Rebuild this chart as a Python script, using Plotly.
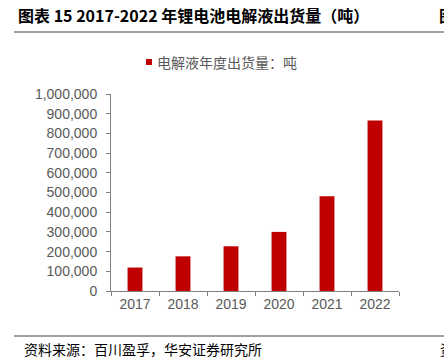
import plotly.graph_objects as go

years = ["2017", "2018", "2019", "2020", "2021", "2022"]
shipments = [119000, 176000, 227000, 300000, 481000, 866000]
series_name = "电解液年度出货量：吨"
title_text = "图表 15 2017-2022 年锂电池电解液出货量（吨）"
source_text = "资料来源：百川盈孚，华安证券研究所"
ytick_vals = list(range(0, 1000001, 100000))
ytick_text = [f"{v:,}" for v in ytick_vals]

W, H = 444, 360
L, R, T, B = 111, 399, 94, 291

def px(x):
    return (x - L) / (R - L)

def py(y):
    return (B - y) / (B - T)

RED = "#C00000"
GRAY = "#595959"

fig = go.Figure()
fig.add_trace(go.Bar(x=years, y=shipments, name=series_name,
                     marker=dict(color=RED, line=dict(width=0)),
                     width=0.31, showlegend=False, hoverinfo="skip"))

fig.update_layout(
    width=W, height=H,
    margin=dict(l=L, r=W - R, t=T, b=H - B, pad=0),
    paper_bgcolor="white", plot_bgcolor="white",
    font=dict(family="Liberation Sans", size=14, color=GRAY),
    xaxis=dict(type="category", tickson="boundaries", ticks="outside",
               ticklen=4, tickcolor="#7f7f7f", showline=True,
               linecolor="#7f7f7f", linewidth=1, showgrid=False,
               tickfont=dict(family="Liberation Sans", size=14, color=GRAY)),
    yaxis=dict(range=[0, 1000000], tickvals=ytick_vals, ticktext=ytick_text,
               ticks="outside", ticklen=4, tickcolor="#7f7f7f",
               showline=True, linecolor="#7f7f7f", linewidth=1,
               showgrid=False, zeroline=False, ticklabelstandoff=6,
               tickfont=dict(family="Liberation Sans", size=14, color=GRAY)),
    bargap=0.69,
)

# title
fig.add_annotation(xref="paper", yref="paper", x=px(16), y=py(15),
                   xanchor="left", yanchor="middle", showarrow=False,
                   text="<b>" + title_text + "</b>",
                   font=dict(family="Noto Sans CJK SC", size=16, color="#000000"))
fig.add_annotation(xref="paper", yref="paper", x=px(437), y=py(15),
                   xanchor="left", yanchor="middle", showarrow=False,
                   text="<b>图</b>",
                   font=dict(family="Noto Sans CJK SC", size=16, color="#000000"))
# lines
fig.add_shape(type="line", xref="paper", yref="paper",
              x0=px(14), x1=px(444), y0=py(32), y1=py(32),
              line=dict(color="#808080", width=1.5))
fig.add_shape(type="line", xref="paper", yref="paper",
              x0=px(14), x1=px(444), y0=py(336), y1=py(336),
              line=dict(color="#808080", width=1.5))
# legend
fig.add_shape(type="rect", xref="paper", yref="paper",
              x0=px(146), x1=px(152), y0=py(59), y1=py(65),
              fillcolor=RED, line=dict(width=0))
fig.add_annotation(xref="paper", yref="paper", x=px(155), y=py(62),
                   xanchor="left", yanchor="middle", showarrow=False,
                   text=series_name,
                   font=dict(family="Noto Sans CJK SC", size=14, color=GRAY))
# source
fig.add_annotation(xref="paper", yref="paper", x=px(22), y=py(349),
                   xanchor="left", yanchor="middle", showarrow=False,
                   text=source_text,
                   font=dict(family="Noto Sans CJK SC", size=14, color="#000000"))
fig.add_annotation(xref="paper", yref="paper", x=px(438), y=py(349),
                   xanchor="left", yanchor="middle", showarrow=False,
                   text="资",
                   font=dict(family="Noto Sans CJK SC", size=14, color="#000000"))

fig.write_html("out.html", config={"displayModeBar": False, "staticPlot": True})

with open("out.html", "r", encoding="utf-8") as f:
    html = f.read()
html = html.replace("<head>", "<head><style>html,body{margin:0;padding:0;overflow:hidden;}</style>", 1)
with open("out.html", "w", encoding="utf-8") as f:
    f.write(html)
